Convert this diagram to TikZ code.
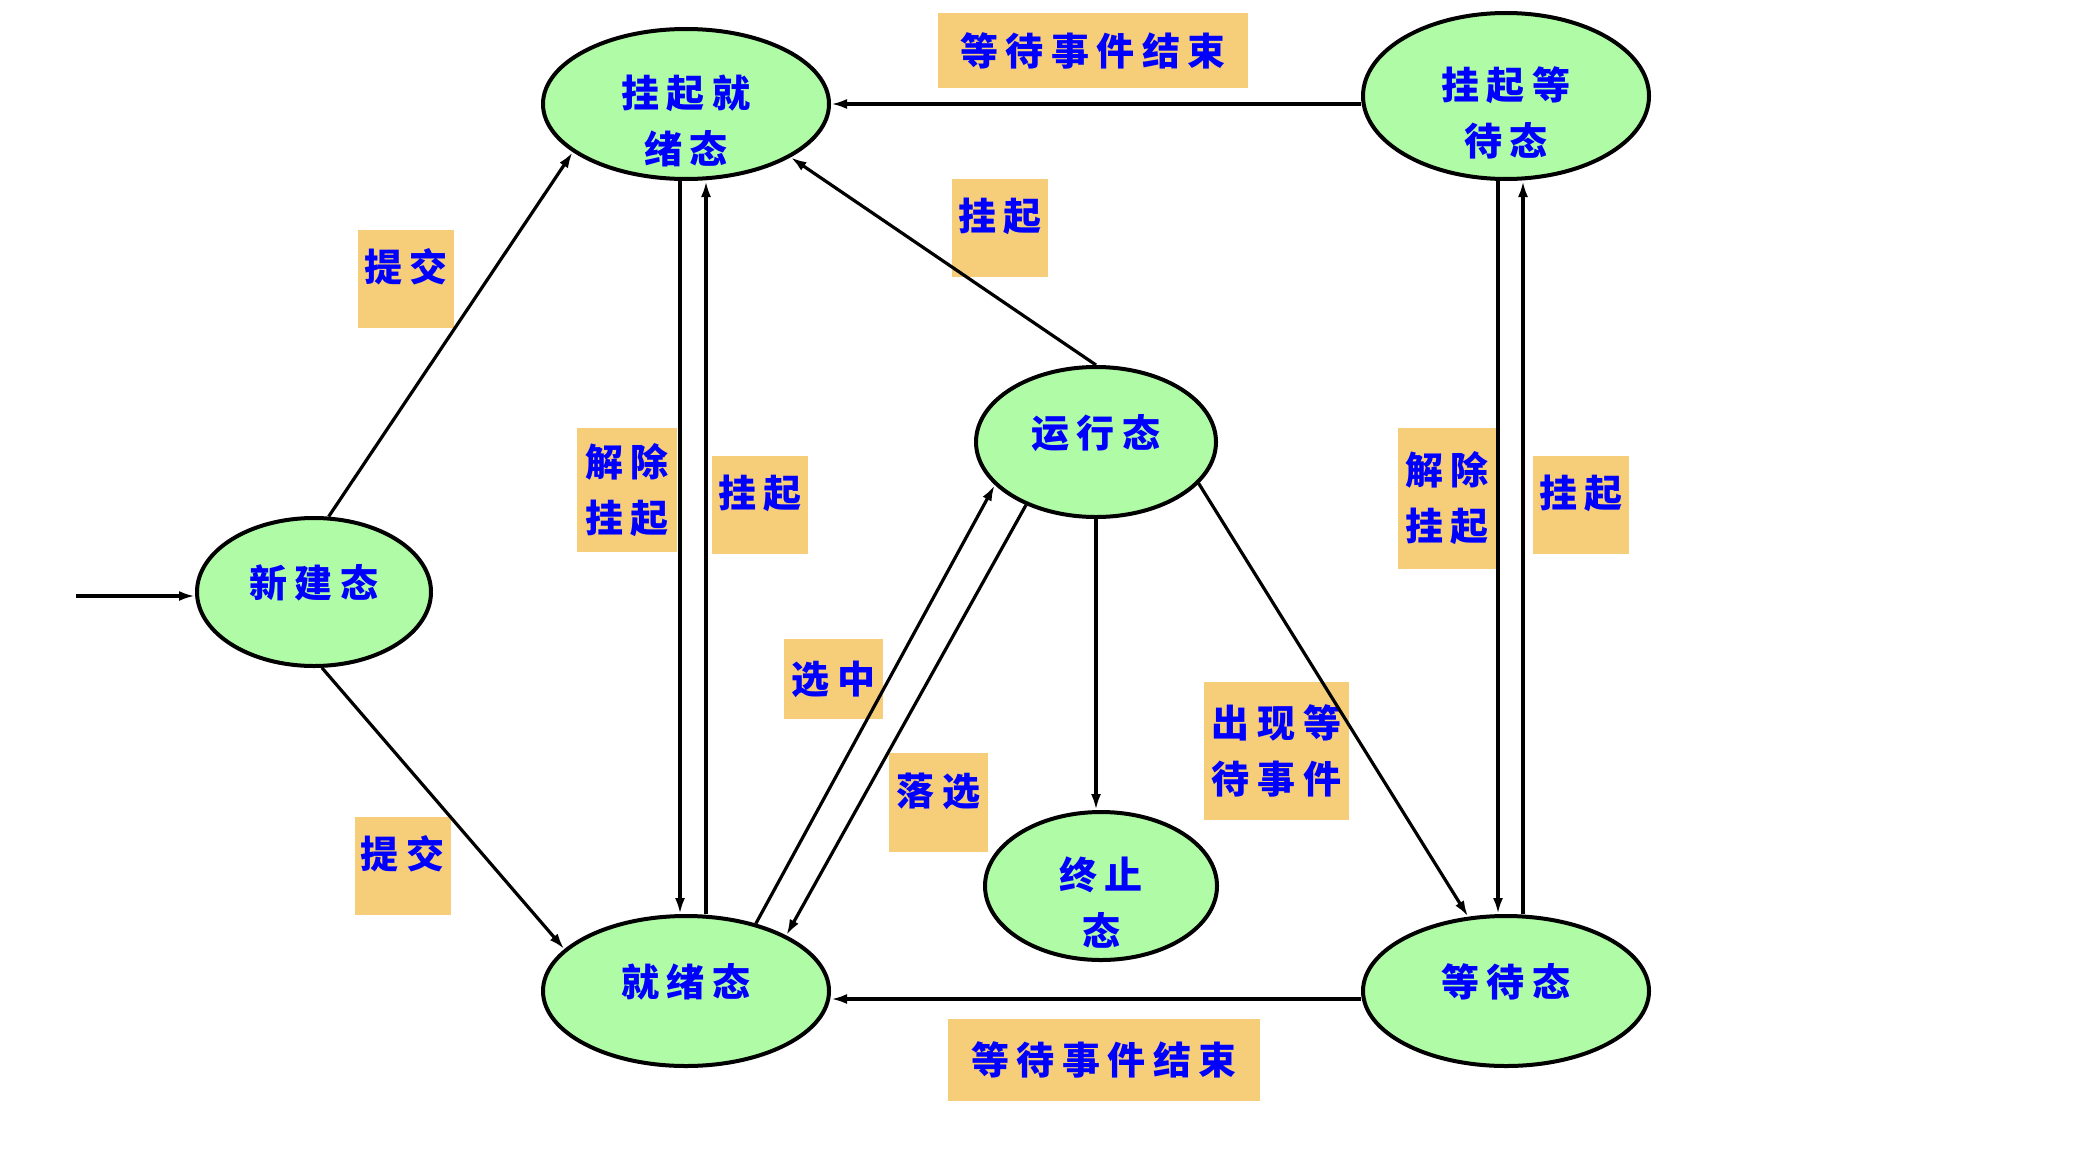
\documentclass[tikz,border=0pt]{standalone}
\usepackage{fontspec}
\usetikzlibrary{arrows.meta,shapes.geometric}
\newfontfamily\cjk[LetterSpace=20]{Noto Sans CJK SC}
\definecolor{stfill}{HTML}{B0FCA6}
\definecolor{tagfill}{HTML}{F6CD79}
\definecolor{ink}{HTML}{0000FF}

\tikzset{
  state/.style={ellipse,draw,line width=2pt,fill=stfill,text=ink,inner sep=0pt,align=center,minimum width=143pt,minimum height=75pt},
  oneline/.style={text height=5.4pt,text depth=0pt},
  twoline/.style={text height=59.4pt,text depth=0pt,inner ysep=-12pt},
  tag/.style={fill=tagfill,text=ink,inner sep=0pt,align=center,minimum width=48pt,minimum height=49pt},
  hi/.style={text height=2.6pt,text depth=0pt},
  arr/.style={-{Latex[length=8pt,width=5pt]},line width=1.6pt},
}

\begin{document}
\begin{tikzpicture}[x=0.5pt,y=-0.5pt,font={\cjk\bfseries\fontsize{19pt}{28pt}\selectfont}]
  \useasboundingbox (0,0) rectangle (2080,1156);
  % labels
  \node[tag,minimum width=155pt,minimum height=37.5pt] (evtop) at (1093,50.5) {等待事件结束};
  \node[tag,hi] (susptop) at (1000,228) {挂起};
  \node[tag,hi] (subup) at (406,278.5) {提交};
  \node[tag,minimum width=50pt,minimum height=62pt] (resl) at (627,490) {解除\\挂起};
  \node[tag,hi] (suspl) at (760,505) {挂起};
  \node[tag,minimum width=49pt,minimum height=70.5pt] (resr) at (1447,498.5) {解除\\挂起};
  \node[tag,hi] (suspr) at (1581,505) {挂起};
  \node[tag,minimum width=49.5pt,minimum height=40pt] (pick) at (833.5,679) {选中};
  \node[tag,hi,minimum width=49.5pt,minimum height=49.5pt] (drop) at (938.5,802.5) {落选};
  \node[tag,minimum width=72.5pt,minimum height=69pt] (evwait) at (1276.5,751) {出现等\\待事件};
  \node[tag,hi] (sublow) at (402.5,866) {提交};
  \node[tag,minimum width=156pt,minimum height=41pt] (evbot) at (1104,1060) {等待事件结束};
  % states
  \node[state,twoline] (sr) at (686,104) {挂起就\\绪态};
  \node[state,twoline,minimum height=83pt] (sw) at (1506,96) {挂起等\\待态};
  \node[state,oneline,minimum width=117pt,minimum height=74pt] (new) at (314,592) {新建态};
  \node[state,oneline,minimum width=120pt] (run) at (1096,442) {运行态};
  \node[state,twoline,minimum width=116pt,minimum height=74pt] (end) at (1101,886) {终止\\态};
  \node[state,oneline] (ready) at (686,991) {就绪态};
  \node[state,oneline] (wait) at (1506,991) {等待态};
  % transitions
  \coordinate (in) at (76,596);
  \coordinate (wb) at ([yshift=-4pt]wait.west);
  \draw[arr] (in) -- (in -| new.west);
  \draw[arr] (new.79) -- (sr.203);
  \draw[arr] (new.276) -- (ready.161);
  \draw[arr] ([xshift=-3pt]sr.south) -- ([xshift=-3pt]ready.north);
  \draw[arr] ([xshift=10pt]ready.north) -- ([xshift=10pt]sr.south);
  \draw[arr] (run.north) -- (sr.333);
  \draw[arr] (sr.east -| sw.west) -- (sr.east);
  \draw[arr] (ready.44) -- (run.203);
  \draw[arr] (run.222) -- (ready.29);
  \draw[arr] (run.south) -- (run.south |- end.north);
  \draw[arr] (run.338) -- (wait.117);
  \draw[arr] ([xshift=-4pt]sw.south) -- ([xshift=-4pt]wait.north);
  \draw[arr] ([xshift=8.5pt]wait.north) -- ([xshift=8.5pt]sw.south);
  \draw[arr] (wb) -- (wb -| ready.east);
\end{tikzpicture}
\end{document}
